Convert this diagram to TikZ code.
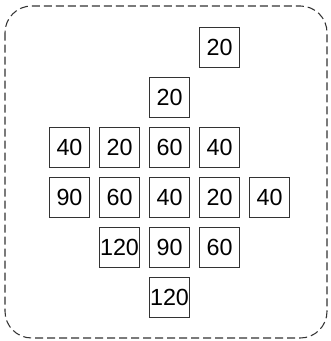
\documentclass[tikz,border=0pt]{standalone}
\usepackage{fontspec}
\setmainfont{Liberation Sans}
\usepackage{xcolor}
\definecolor{cLine}{HTML}{333333}

\begin{document}
\begin{tikzpicture}[
  x=0.75pt, y=-0.75pt,
  every node/.style={font=\fontsize{17.5}{19}\selectfont},
  cell/.style={draw=cLine, line width=0.7pt, minimum width=30pt, minimum height=30pt, inner sep=0pt},
]

\useasboundingbox (0,0) rectangle (330,341);
\draw[cLine, line width=0.8pt, dash pattern=on 6pt off 3pt, rounded corners=20pt] (5,6) rectangle (327,338);

% row 0
\node[cell] (r0c3) at (219.5,47) {20};
% row 1
\node[cell] (r1c2) at (169.5,97) {20};
% row 2
\node[cell] (r2c0) at (69.5,147) {40};
\node[cell] (r2c1) at (119.5,147) {20};
\node[cell] (r2c2) at (169.5,147) {60};
\node[cell] (r2c3) at (219.5,147) {40};
% row 3
\node[cell] (r3c0) at (69.5,197) {90};
\node[cell] (r3c1) at (119.5,197) {60};
\node[cell] (r3c2) at (169.5,197) {40};
\node[cell] (r3c3) at (219.5,197) {20};
\node[cell] (r3c4) at (269.5,197) {40};
% row 4
\node[cell] (r4c1) at (119.5,247) {120};
\node[cell] (r4c2) at (169.5,247) {90};
\node[cell] (r4c3) at (219.5,247) {60};
% row 5
\node[cell] (r5c2) at (169.5,297) {120};

\end{tikzpicture}
\end{document}
